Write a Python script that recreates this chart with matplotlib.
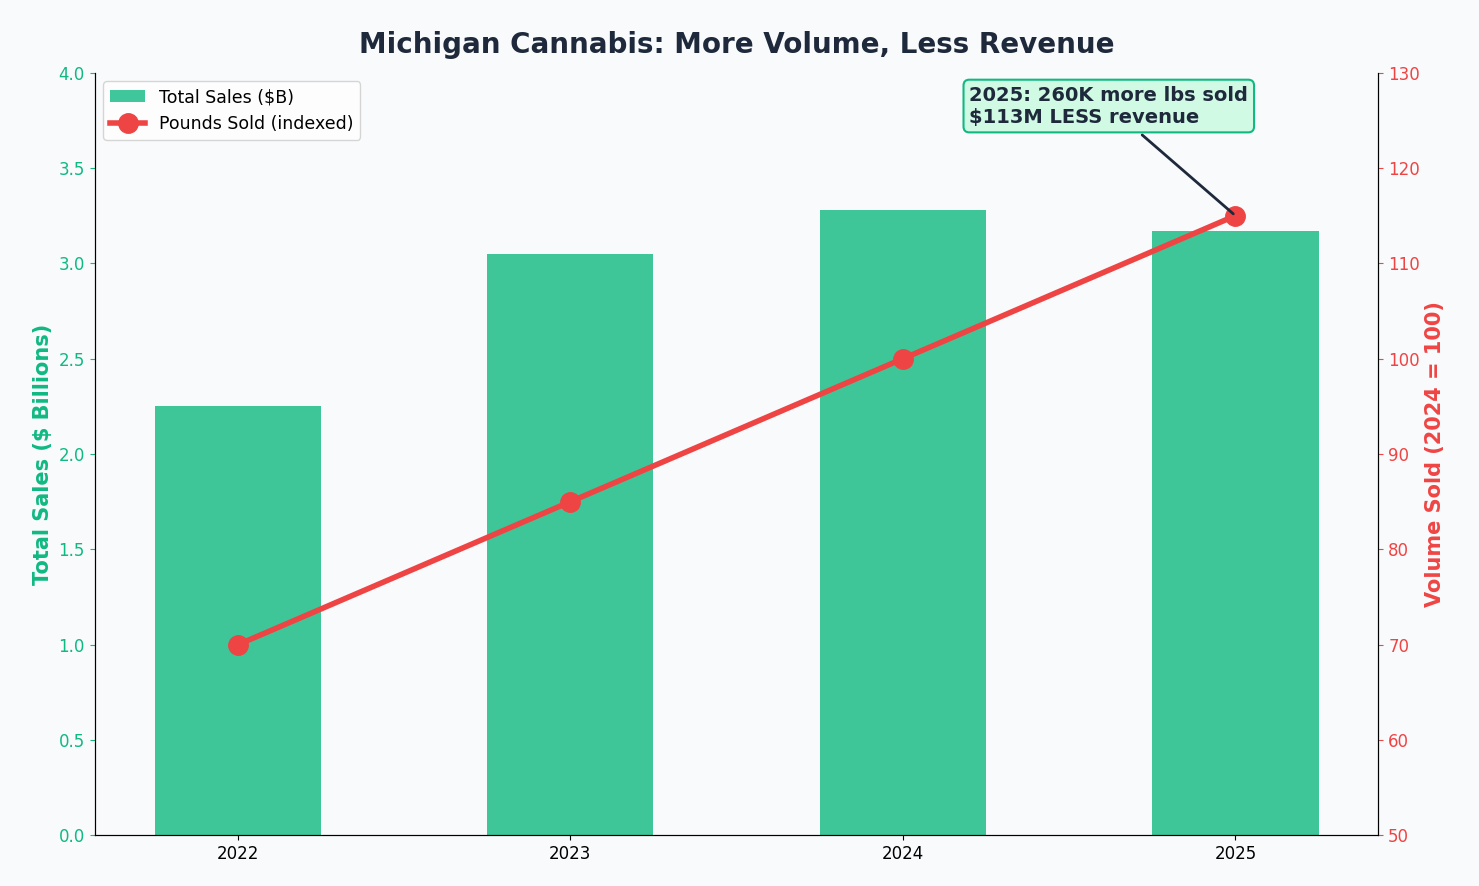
import matplotlib.pyplot as plt
import numpy as np

years = ["2022", "2023", "2024", "2025"]
sales_b = [2.25, 3.05, 3.28, 3.17]
pounds_idx = [70, 85, 100, 115]

green = "#10b981"
red = "#ef4444"
dark = "#1e293b"
bg = "#f8fafc"

fig, ax = plt.subplots(figsize=(14.79, 8.86), dpi=100)
fig.patch.set_facecolor(bg)
ax.set_facecolor(bg)
x = np.arange(len(years))

bars = ax.bar(x, sales_b, 0.5, color=green, alpha=0.8, label="Total Sales ($B)")
ax.set_ylim(0, 4)
ax.set_xlim(-0.43, 3.43)
ax.set_xticks(x)
ax.set_xticklabels(years, fontsize=12)
ax.set_ylabel("Total Sales ($ Billions)", color=green, fontsize=15, fontweight="bold")
ax.tick_params(axis="y", colors=green, labelsize=12)
ax.spines["top"].set_visible(False)

ax2 = ax.twinx()
line, = ax2.plot(x, pounds_idx, color=red, linewidth=4, marker="o", markersize=14, label="Pounds Sold (indexed)")
ax2.set_ylim(50, 130)
ax2.set_ylabel("Volume Sold (2024 = 100)", color=red, fontsize=15, fontweight="bold")
ax2.tick_params(axis="y", colors=red, labelsize=12)
ax2.spines["top"].set_visible(False)

ax2.annotate("2025: 260K more lbs sold\n$113M LESS revenue", xy=(3, 115), xytext=(2.2, 126.5),
             fontsize=14, fontweight="bold", color=dark, ha="left", va="center",
             bbox=dict(boxstyle="round,pad=0.3", facecolor="#d1fae5", edgecolor=green, linewidth=1.5),
             arrowprops=dict(arrowstyle="-", color=dark, linewidth=2))

ax.legend([bars, line], ["Total Sales ($B)", "Pounds Sold (indexed)"], loc="upper left", fontsize=12.5)
ax.set_title("Michigan Cannabis: More Volume, Less Revenue", fontsize=20, fontweight="bold", color=dark, pad=14)

fig.subplots_adjust(left=0.064, right=0.932, top=0.918, bottom=0.057)
fig.savefig("out.png", dpi=100, facecolor=bg)
